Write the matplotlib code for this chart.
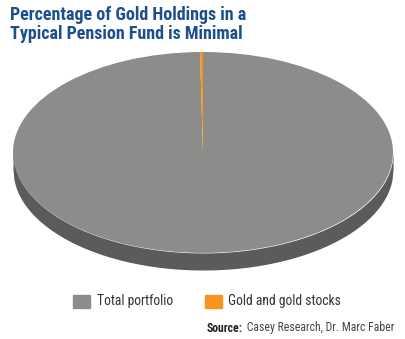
import numpy as np
import matplotlib
matplotlib.use("Agg")
import matplotlib.pyplot as plt
from matplotlib import font_manager as fm

# data
labels = ["Total portfolio", "Gold and gold stocks"]
shares = [99.75, 0.25]
colors = ["#8c8d8a", "#f7941d"]
side_color = "#5b5b5b"

title = "Percentage of Gold Holdings in a\nTypical Pension Fund is Minimal"


def narrow_font(bold):
    # look for any condensed / narrow face that is installed
    best = None
    for f in fm.fontManager.ttflist:
        name = f.name + " " + str(f.fname)
        narrow = ("Narrow" in name or "Condensed" in name
                  or str(f.stretch) in ("condensed", "semi-condensed", "extra-condensed"))
        if not narrow or "Oblique" in f.fname or "Italic" in f.fname:
            continue
        w = f.weight if isinstance(f.weight, int) else (700 if "bold" in str(f.weight) else 400)
        if bold != (w >= 600):
            continue
        if "Extra" in f.fname or "Semi" in f.fname or "Light" in f.fname or "Black" in f.fname:
            continue
        best = f.fname
        if "Liberation" in name or "Roboto" in name:
            break
    if best:
        return fm.FontProperties(fname=best)
    return fm.FontProperties(family="DejaVu Sans", weight="bold" if bold else "normal")


fp_bold = narrow_font(True)
fp_reg = narrow_font(False)

fig = plt.figure(figsize=(4.05, 3.39), dpi=100)
W, H = 405, 339

# pie drawn as a flat disc: unit circle squashed by the axes box
thick = 0.17
ax = fig.add_axes([13 / W, (H - 270) / H, 380 / W, 218 / H])
wedges, _ = ax.pie(shares, colors=colors, startangle=90, counterclock=False,
                   radius=1, wedgeprops=dict(linewidth=0))
for w in wedges:
    w.set_zorder(3)

# front rim of the disc
x = np.linspace(-1, 1, 400)
rim = -np.sqrt(1 - x ** 2)
ax.fill_between(x, rim - thick, rim, color=side_color, linewidth=0, zorder=2)

ax.set_aspect("auto")
ax.set_xlim(-1, 1)
ax.set_ylim(-1 - thick, 1)
ax.axis("off")

r = fig.canvas.get_renderer()


def fit(t, width, maxsize):
    # shrink a text until it is as wide as in the reference
    t.set_fontsize(maxsize)
    w = t.get_window_extent(r).width
    if w > width:
        t.set_fontsize(maxsize * width / w)
    return t


tt = fig.text(10 / W, 1 - 6 / H, title, ha="left", va="top",
              fontproperties=fp_bold.copy(), color="#1c4f8c", linespacing=1.05)
fit(tt, 236, 13)

# legend, laid out by hand to follow the reference
leg_y = 1 - 301.5 / H
items = [(73, 97), (205, 228)]
for (sx, tx), col in zip(items, colors):
    fig.patches.append(plt.Rectangle((sx / W, leg_y - 6.5 / H), 17 / W, 13 / H,
                                     transform=fig.transFigure, color=col,
                                     figure=fig))
txts = []
for (sx, tx), lab in zip(items, labels):
    txts.append(fig.text(tx / W, leg_y, lab, ha="left", va="center",
                         fontproperties=fp_reg.copy(), color="#333333"))
fit(txts[0], 77, 11)
fit(txts[1], 118, 11)
s = min(t.get_fontsize() for t in txts)
for t in txts:
    t.set_fontsize(s)

src = fig.text(207 / W, 1 - 328 / H, "Source:", ha="left", va="center",
               fontproperties=fp_bold.copy(), color="#222222")
rest = fig.text(0, 1 - 328 / H, " Casey Research, Dr. Marc Faber",
                ha="left", va="center", fontproperties=fp_reg.copy(),
                color="#444444")
size = 10
for _ in range(30):
    src.set_fontsize(size)
    rest.set_fontsize(size)
    w = src.get_window_extent(r).width + rest.get_window_extent(r).width
    if w <= 188:
        break
    size -= 0.25
rest.set_x((207 + src.get_window_extent(r).width + 1) / W)

fig.savefig("out.png", dpi=100)
